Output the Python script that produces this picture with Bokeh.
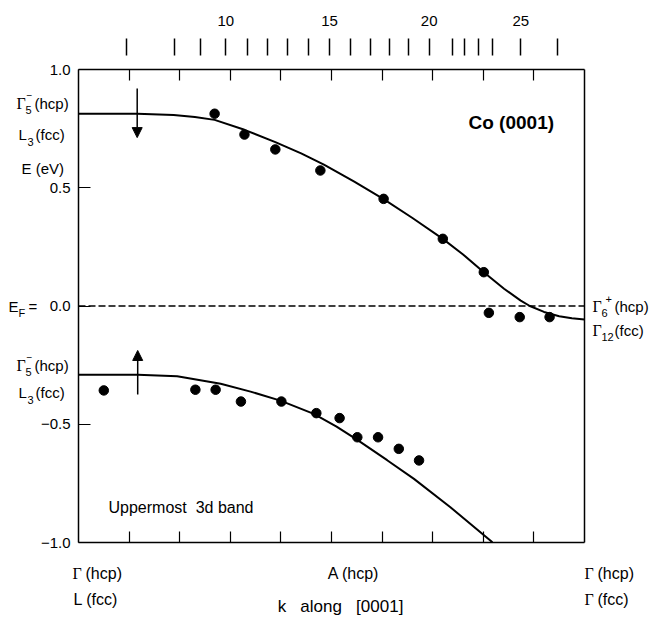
from bokeh.plotting import figure
from bokeh.models import Range1d, LinearAxis, FixedTicker, Label, Arrow, NormalHead, Grid
from bokeh.embed import file_html
from bokeh.resources import INLINE

# ---------------- data ----------------
upper_k = [0.269, 0.328, 0.389, 0.478, 0.603, 0.720, 0.801, 0.811, 0.872, 0.931]
upper_e = [0.813, 0.725, 0.662, 0.573, 0.453, 0.284, 0.143, -0.029, -0.047, -0.047]
lower_k = [0.050, 0.231, 0.271, 0.321, 0.401, 0.470, 0.516, 0.551, 0.592, 0.633, 0.673]
lower_e = [-0.357, -0.354, -0.354, -0.404, -0.404, -0.453, -0.474, -0.555, -0.555, -0.604, -0.653]

upper_band_k = [0.0, 0.116, 0.188, 0.230, 0.269, 0.328, 0.389, 0.440, 0.485, 0.545, 0.603,
                0.660, 0.720, 0.760, 0.801, 0.841, 0.874, 0.892, 0.920, 0.950, 0.975, 1.0]
upper_band_e = [0.813, 0.813, 0.808, 0.799, 0.787, 0.745, 0.693, 0.645, 0.598, 0.526, 0.452,
                0.372, 0.284, 0.218, 0.143, 0.073, 0.023, 0.0, -0.025, -0.043, -0.052, -0.057]
lower_band_k = [0.0, 0.117, 0.195, 0.281, 0.340, 0.399, 0.465, 0.510, 0.551, 0.610, 0.663,
                0.735, 0.802, 0.818]
lower_band_e = [-0.291, -0.291, -0.297, -0.329, -0.362, -0.400, -0.456, -0.510, -0.566, -0.652,
                -0.731, -0.851, -0.970, -0.999]

photon_tick_k = [0.094, 0.189, 0.241, 0.291, 0.334, 0.373, 0.414, 0.454, 0.496, 0.538,
                 0.578, 0.614, 0.652, 0.693, 0.739, 0.763, 0.790, 0.819, 0.874, 0.947]
photon_label_k = [0.291, 0.496, 0.693, 0.874]
photon_label_text = ["10", "15", "20", "25"]

k_ticks = [0.1, 0.2, 0.3, 0.4, 0.5, 0.6, 0.7, 0.8, 0.9]
energy_ticks = [-1.0, -0.5, 0.0, 0.5, 1.0]
energy_tick_text = ["\u22121.0", "\u22120.5", "0.0", "0.5", "1.0"]

K_MIN, K_MAX = 0.0, 1.0
E_MIN, E_MAX = -1.0, 1.0
E_FERMI = 0.0

# ---------------- layout (pixels) ----------------
W, H = 649, 620
LEFT, TOP, BOX_W, BOX_H = 78, 69, 506, 473
kpp = (K_MAX - K_MIN) / BOX_W
epp = (E_MAX - E_MIN) / BOX_H

SANS = "Liberation Sans"
SERIF = "Liberation Serif"

p = figure(width=W, height=H,
           x_range=Range1d(K_MIN - LEFT * kpp, K_MIN + (W - LEFT) * kpp),
           y_range=Range1d(E_MAX - (H - TOP) * epp, E_MAX + TOP * epp),
           output_backend="svg", toolbar_location=None,
           x_axis_location=None, y_axis_location=None, min_border=0)
p.center = [r for r in p.center if not isinstance(r, Grid)]
p.outline_line_color = None
p.background_fill_color = None
p.border_fill_color = None

def style_axis(ax):
    ax.axis_line_color = "black"
    ax.axis_line_width = 1.5
    ax.major_tick_line_color = "black"
    ax.minor_tick_line_color = "black"
    ax.major_tick_line_width = 1.2
    ax.minor_tick_line_width = 1.2
    ax.major_label_text_font = SANS
    ax.major_label_text_font_size = "15px"
    ax.major_label_text_color = "black"

# bottom border with inward ticks
bot = LinearAxis(fixed_location=E_MIN, bounds=(K_MIN, K_MAX), ticker=FixedTicker(ticks=k_ticks),
                 major_tick_in=11, major_tick_out=0, minor_tick_in=0, minor_tick_out=0,
                 major_label_overrides={t: "" for t in k_ticks})
style_axis(bot)
p.add_layout(bot, "below")

# left energy axis
left = LinearAxis(fixed_location=K_MIN, bounds=(E_MIN, E_MAX), ticker=FixedTicker(ticks=energy_ticks),
                  major_tick_in=12, major_tick_out=0, minor_tick_in=0, minor_tick_out=0,
                  major_label_overrides=dict(zip(energy_ticks, energy_tick_text)),
                  major_label_standoff=8)
style_axis(left)
p.add_layout(left, "left")

# right border
right = LinearAxis(fixed_location=K_MAX, bounds=(E_MIN, E_MAX), ticker=FixedTicker(ticks=[]),
                   major_tick_in=0, major_tick_out=0, minor_tick_in=0, minor_tick_out=0)
style_axis(right)
p.add_layout(right, "right")

# top border + photon-energy scale
top_over = {t: "" for t in photon_tick_k}
for t, s in zip(photon_label_k, photon_label_text):
    top_over[t] = s
top = LinearAxis(fixed_location=E_MAX, bounds=(K_MIN, K_MAX),
                 ticker=FixedTicker(ticks=photon_tick_k, minor_ticks=k_ticks),
                 major_tick_in=-14, major_tick_out=31, minor_tick_in=11, minor_tick_out=0,
                 major_label_overrides=top_over, major_label_standoff=13)
style_axis(top)
top.major_tick_line_width = 1.5
p.add_layout(top, "above")

# Fermi level
p.segment(x0=[K_MIN], x1=[K_MAX], y0=[E_FERMI], y1=[E_FERMI],
          line_color="black", line_width=1.5, line_dash="7 3")

# bands and data
p.line(upper_band_k, upper_band_e, line_color="black", line_width=2)
p.line(lower_band_k, lower_band_e, line_color="black", line_width=2)
p.scatter(upper_k, upper_e, size=9.5, color="black")
p.scatter(lower_k, lower_e, size=9.5, color="black")

p.add_layout(Arrow(end=NormalHead(size=10, fill_color="black", line_color="black"),
                   x_start=0.116, y_start=0.92, x_end=0.116, y_end=0.712,
                   line_width=1.5, line_color="black"))
p.add_layout(Arrow(end=NormalHead(size=10, fill_color="black", line_color="black"),
                   x_start=0.117, y_start=-0.374, x_end=0.117, y_end=-0.188,
                   line_width=1.5, line_color="black"))

# ---------------- text (pixel positions on the canvas) ----------------
def kx(X):
    return K_MIN + (X - LEFT) * kpp

def ey(Y):
    return E_MAX - (Y - TOP) * epp

def txt(text, X, Y, size=15, align="left", font=SANS, style="normal"):
    p.add_layout(Label(x=kx(X), y=ey(Y), text=text, text_font=font,
                       text_font_size=f"{size}px", text_align=align,
                       text_baseline="middle", text_font_style=style,
                       text_color="black"))

NB = "\u00a0"
# left, upper
txt("\u0393", 16, 103, 16, font=SERIF)
txt("5", 25, 109, 11)
txt("\u2212", 26, 94, 10)
txt("(hcp)", 34, 103)
txt("L", 18, 134)
txt("3", 27, 141, 11)
txt("(fcc)", 35, 134)
txt("E (eV)", 21, 168)
# left, Fermi level
txt("E", 8, 306)
txt("F", 18, 312, 11)
txt("=", 28, 306)
# left, lower
txt("\u0393", 16, 365, 16, font=SERIF)
txt("5", 25, 371, 11)
txt("\u2212", 26, 356, 10)
txt("(hcp)", 34, 365)
txt("L", 18, 392)
txt("3", 27, 399, 11)
txt("(fcc)", 35, 392)
# right
txt("\u0393", 592, 306, 16, font=SERIF)
txt("6", 601, 312, 11)
txt("+", 605, 298, 11)
txt("(hcp)", 614, 306)
txt("\u0393", 592, 330, 16, font=SERIF)
txt("12", 601, 336, 11)
txt("(fcc)", 614, 330)
# bottom
txt("\u0393", 72, 573, 16, font=SERIF)
txt("(hcp)", 85, 573, 16)
txt("L (fcc)", 73, 599, 16)
txt("A (hcp)", 353, 573, 16, align="center")
txt("\u0393", 584, 573, 16, font=SERIF)
txt("(hcp)", 597, 573, 16)
txt("\u0393", 584, 599, 16, font=SERIF)
txt("(fcc)", 597, 599, 16)
txt("k" + NB * 3 + "along" + NB * 3 + "[0001]", 340, 606, 17, align="center")
# inside
txt("Co (0001)", 468, 122, 19, style="bold")
txt("Uppermost" + NB + NB + "3d band", 108, 507, 16)

open("out.html", "w").write(file_html(p, INLINE))
